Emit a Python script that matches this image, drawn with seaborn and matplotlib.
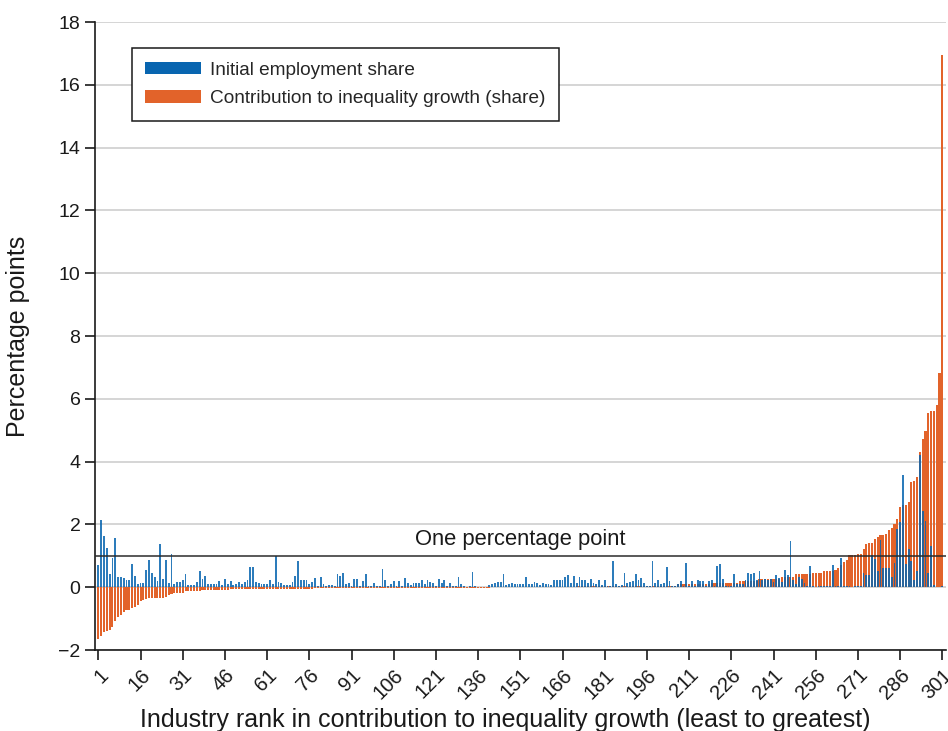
import matplotlib
matplotlib.use("Agg")
import matplotlib.pyplot as plt
import pandas as pd
import seaborn as sns
from matplotlib.patches import Patch

# Industries ranked by their contribution to inequality growth (1 = least, 301 = greatest)
ranks = list(range(1, 302))

# Initial employment share of each industry, percentage points
employment_share = [
    0.70, 2.14, 1.63, 1.26, 0.43, 0.94, 1.56, 0.32, 0.32, 0.29,
    0.24, 0.24, 0.73, 0.37, 0.11, 0.15, 0.13, 0.56, 0.86, 0.45,
    0.32, 0.21, 1.39, 0.27, 0.86, 0.13, 1.07, 0.09, 0.17, 0.17,
    0.22, 0.41, 0.06, 0.06, 0.07, 0.17, 0.51, 0.27, 0.37, 0.11,
    0.11, 0.11, 0.11, 0.21, 0.06, 0.27, 0.11, 0.21, 0.06, 0.11,
    0.17, 0.11, 0.17, 0.22, 0.64, 0.64, 0.17, 0.14, 0.10, 0.11,
    0.11, 0.22, 0.10, 1.00, 0.17, 0.14, 0.06, 0.06, 0.06, 0.17,
    0.37, 0.84, 0.22, 0.22, 0.24, 0.09, 0.17, 0.30, 0.05, 0.34,
    0.11, 0.05, 0.08, 0.06, 0.05, 0.41, 0.36, 0.46, 0.11, 0.12,
    0.05, 0.27, 0.27, 0.04, 0.20, 0.41, 0.03, 0.05, 0.14, 0.04,
    0.04, 0.58, 0.24, 0.04, 0.10, 0.20, 0.04, 0.20, 0.03, 0.28,
    0.12, 0.08, 0.13, 0.15, 0.12, 0.22, 0.10, 0.24, 0.18, 0.12,
    0.05, 0.27, 0.15, 0.22, 0.05, 0.15, 0.04, 0.03, 0.34, 0.10,
    0.03, 0.02, 0.03, 0.48, 0.05, 0.02, 0.01, 0.02, 0.01, 0.06,
    0.10, 0.14, 0.16, 0.18, 0.43, 0.06, 0.10, 0.12, 0.10, 0.11,
    0.10, 0.09, 0.34, 0.10, 0.11, 0.18, 0.15, 0.06, 0.12, 0.11,
    0.10, 0.08, 0.22, 0.24, 0.22, 0.24, 0.32, 0.40, 0.12, 0.37,
    0.15, 0.32, 0.22, 0.22, 0.12, 0.27, 0.15, 0.10, 0.22, 0.08,
    0.22, 0.05, 0.03, 0.82, 0.10, 0.05, 0.08, 0.45, 0.12, 0.17,
    0.20, 0.43, 0.22, 0.30, 0.13, 0.05, 0.03, 0.84, 0.12, 0.22,
    0.11, 0.12, 0.64, 0.20, 0.05, 0.04, 0.10, 0.20, 0.05, 0.76,
    0.05, 0.20, 0.05, 0.24, 0.20, 0.20, 0.05, 0.20, 0.24, 0.04,
    0.67, 0.75, 0.27, 0.03, 0.03, 0.04, 0.41, 0.11, 0.11, 0.11,
    0.22, 0.45, 0.42, 0.45, 0.22, 0.53, 0.22, 0.27, 0.22, 0.27,
    0.16, 0.40, 0.30, 0.16, 0.56, 0.40, 1.47, 0.22, 0.11, 0.34,
    0.27, 0.13, 0.05, 0.67, 0.03, 0.02, 0.04, 0.03, 0.04, 0.03,
    0.03, 0.72, 0.03, 0.05, 0.93, 0.03, 0.04, 0.03, 0.02, 0.03,
    0.03, 0.03, 0.44, 0.38, 0.38, 1.02, 0.91, 0.52, 1.50, 0.60,
    0.60, 0.60, 0.33, 0.78, 1.84, 2.09, 3.57, 0.73, 1.23, 0.84,
    0.22, 0.52, 4.21, 2.43, 2.11, 0.44, 1.31, 0.06, 0.00, 0.00,
    0.05,
]

# Contribution of each industry to inequality growth (share), percentage points
contribution_share = [
    -1.66, -1.55, -1.44, -1.39, -1.36, -1.26, -1.07, -0.96, -0.88, -0.80,
    -0.73, -0.71, -0.66, -0.64, -0.56, -0.45, -0.41, -0.36, -0.34, -0.34,
    -0.34, -0.34, -0.34, -0.34, -0.30, -0.24, -0.21, -0.19, -0.19, -0.19,
    -0.19, -0.12, -0.12, -0.11, -0.11, -0.11, -0.11, -0.10, -0.10, -0.10,
    -0.10, -0.09, -0.09, -0.09, -0.08, -0.08, -0.08, -0.07, -0.07, -0.07,
    -0.07, -0.07, -0.07, -0.07, -0.06, -0.06, -0.06, -0.06, -0.06, -0.06,
    -0.06, -0.06, -0.06, -0.06, -0.06, -0.06, -0.06, -0.06, -0.06, -0.06,
    -0.06, -0.06, -0.06, -0.05, -0.05, -0.05, -0.05, -0.03, -0.03, -0.03,
    -0.03, -0.03, -0.03, -0.03, -0.03, -0.03, -0.02, -0.02, -0.02, -0.02,
    -0.02, -0.02, -0.02, -0.02, -0.02, -0.02, -0.02, -0.02, -0.02, -0.02,
    -0.02, -0.02, -0.02, -0.02, -0.02, -0.02, -0.02, -0.02, -0.02, -0.02,
    -0.02, -0.02, -0.02, -0.02, -0.02, -0.02, -0.02, -0.02, -0.02, -0.02,
    -0.02, -0.02, -0.02, -0.02, -0.02, -0.02, -0.02, -0.02, -0.02, -0.02,
    -0.02, -0.02, -0.02, -0.02, -0.02, -0.02, -0.02, -0.02, -0.02, -0.02,
    0.02, 0.02, 0.02, 0.02, 0.02, 0.02, 0.02, 0.02, 0.02, 0.02,
    0.02, 0.02, 0.02, 0.02, 0.02, 0.02, 0.02, 0.02, 0.02, 0.02,
    0.02, 0.02, 0.02, 0.02, 0.02, 0.02, 0.02, 0.02, 0.02, 0.02,
    0.03, 0.03, 0.03, 0.03, 0.03, 0.03, 0.03, 0.03, 0.03, 0.03,
    0.03, 0.03, 0.03, 0.03, 0.03, 0.03, 0.03, 0.03, 0.03, 0.03,
    0.03, 0.03, 0.03, 0.03, 0.03, 0.03, 0.03, 0.03, 0.03, 0.03,
    0.05, 0.05, 0.05, 0.05, 0.05, 0.05, 0.11, 0.11, 0.11, 0.11,
    0.11, 0.11, 0.11, 0.11, 0.11, 0.11, 0.11, 0.11, 0.15, 0.15,
    0.15, 0.15, 0.15, 0.15, 0.15, 0.15, 0.15, 0.15, 0.20, 0.20,
    0.20, 0.20, 0.20, 0.20, 0.20, 0.26, 0.26, 0.26, 0.26, 0.26,
    0.26, 0.26, 0.26, 0.32, 0.32, 0.32, 0.32, 0.32, 0.41, 0.41,
    0.41, 0.41, 0.41, 0.41, 0.45, 0.45, 0.45, 0.45, 0.52, 0.52,
    0.52, 0.52, 0.56, 0.62, 0.72, 0.80, 0.88, 1.03, 1.03, 1.03,
    1.07, 1.07, 1.23, 1.37, 1.41, 1.41, 1.52, 1.59, 1.66, 1.66,
    1.68, 1.82, 1.89, 2.00, 2.16, 2.57, 2.61, 2.61, 2.72, 3.34,
    3.37, 3.51, 4.31, 4.71, 4.98, 5.55, 5.60, 5.62, 5.81, 6.82,
    16.95,
]

x_tick_ranks = list(range(1, 302, 15))
x_tick_labels = [str(r) for r in x_tick_ranks]
y_ticks = list(range(-2, 19, 2))
y_tick_labels = [str(v).replace("-", "\u2212") for v in y_ticks]

BLUE = "#0865b0"
ORANGE = "#e2632a"

sns.set_style("ticks")
plt.rcParams["font.family"] = ["Liberation Sans", "DejaVu Sans"]

df = pd.DataFrame({
    "rank": ranks,
    "employment": employment_share,
    "contribution": contribution_share,
})

fig = plt.figure(figsize=(9.48, 7.31), dpi=100)
ax = fig.add_axes([0.1002, 0.1108, 0.8977, 0.859])

for yv in y_ticks:
    ax.axhline(yv, color="#d2d2d2", lw=1.3, zorder=0)

sns.barplot(data=df, x="rank", y="contribution", color=ORANGE, saturation=1,
            width=0.75, ax=ax, zorder=2, linewidth=0)
sns.barplot(data=df, x="rank", y="employment", color=BLUE, saturation=1,
            width=0.65, alpha=0.85, ax=ax, zorder=3, linewidth=0)

# Reference line at one percentage point
ax.axhline(1, color="#2b2b2b", lw=1.1, zorder=4)
ax.text(150, 1.17, "One percentage point", ha="center", va="bottom",
        fontsize=15.8, color="#1a1a1a", zorder=5)

ax.set_xlim(-1.2, 301.3)
ax.set_ylim(-2, 18)
ax.set_xticks([r - 1 for r in x_tick_ranks])
ax.set_xticklabels(x_tick_labels, rotation=45, ha="right", rotation_mode="anchor",
                   fontsize=14.5)
ax.set_yticks(y_ticks)
ax.set_yticklabels(y_tick_labels, fontsize=14)

for side in ("top", "right"):
    ax.spines[side].set_visible(False)
for side in ("left", "bottom"):
    ax.spines[side].set_color("#1a1a1a")
    ax.spines[side].set_linewidth(1.2)

ax.tick_params(axis="both", direction="out", length=7, width=1.2, color="#1a1a1a",
               labelcolor="#1a1a1a")
ax.tick_params(axis="x", pad=4)

ax.set_xlabel("Industry rank in contribution to inequality growth (least to greatest)",
              fontsize=18, color="#1a1a1a")
ax.set_ylabel("Percentage points", fontsize=18, color="#1a1a1a")
ax.xaxis.set_label_coords(0.482, -0.092)
ax.yaxis.set_label_coords(-0.076, 0.5)

handles = [
    Patch(facecolor=BLUE, edgecolor="none", label="Initial employment share"),
    Patch(facecolor=ORANGE, edgecolor="none", label="Contribution to inequality growth (share)"),
]
leg = ax.legend(handles=handles, loc="upper left", bbox_to_anchor=(0.0435, 0.958),
                frameon=True, fancybox=False, edgecolor="#1a1a1a", framealpha=1,
                fontsize=13.7, handlelength=2.9, handleheight=0.6, borderpad=0.7,
                labelspacing=0.6, handletextpad=0.5, borderaxespad=0)
leg.get_frame().set_linewidth(1.1)

fig.savefig("out.png", dpi=100)
